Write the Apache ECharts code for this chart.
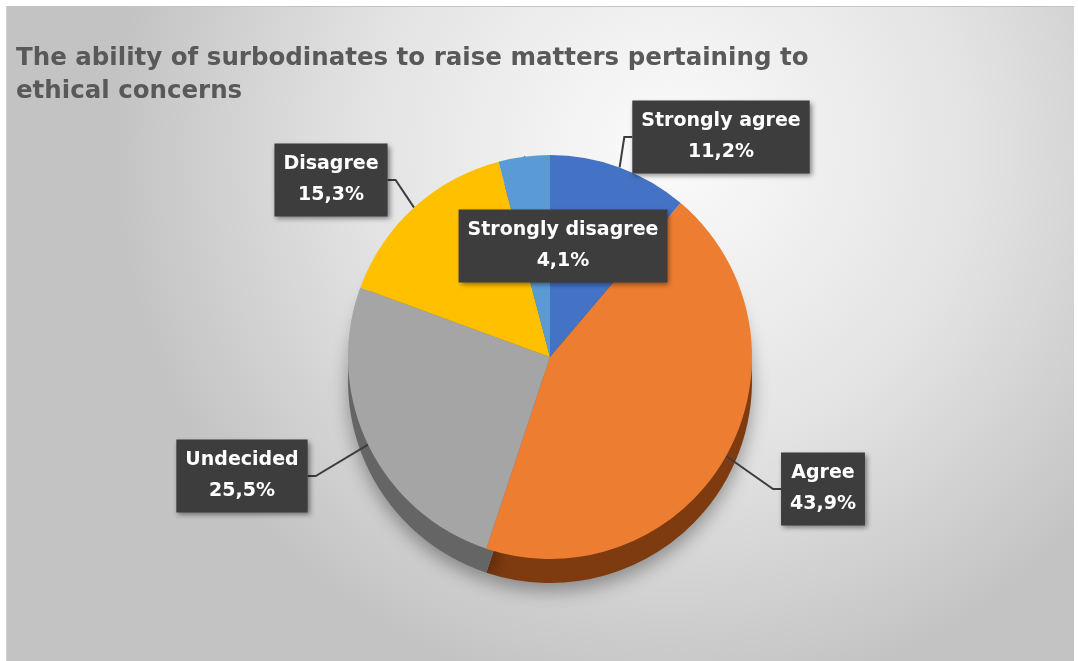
<!DOCTYPE html>
<html>
<head>
<meta charset="utf-8">
<script src="https://cdn.jsdelivr.net/npm/echarts@6/dist/echarts.min.js"></script>
<style>
  html, body { margin: 0; padding: 0; background: #ffffff; width: 1078px; height: 661px; overflow: hidden; }
  #chart { position: absolute; left: 6px; top: 6px; width: 1067px; height: 655px; border-top: 1px solid #c4c4c4; border-left: 1px solid #d0d0d0; }
</style>
</head>
<body>
<div id="chart"></div>
<script>
// ---- data ----
const titleText = 'The ability of surbodinates to raise matters pertaining to\nethical concerns';
const categories = ['Strongly agree', 'Agree', 'Undecided', 'Disagree', 'Strongly disagree'];
const values = [11.2, 43.9, 25.5, 15.3, 4.1];
const topColors = ['#4472C4', '#ED7D31', '#A5A5A5', '#FFC000', '#5B9BD5'];
const sideColors = ['#2B4B86', '#7E3B0F', '#656565', '#9E7600', '#3A6A98'];

// label box centres (chart pixel positions for the callouts)
const labelPos = [[714, 130], [816, 482], [235, 469], [324, 173], [556, 239]];

const fmt = v => v.toFixed(1).replace('.', ',') + '%';

const chart = echarts.init(document.getElementById('chart'));
const topData = categories.map((c, i) => ({ name: c, value: values[i], itemStyle: { color: topColors[i] } }));
const sideData = categories.map((c, i) => ({ name: c, value: values[i], itemStyle: { color: sideColors[i] } }));

chart.setOption({
  backgroundColor: {
    type: 'radial', x: 0.62, y: 0.22, r: 0.85,
    colorStops: [
      { offset: 0, color: '#fbfbfb' },
      { offset: 0.55, color: '#e3e3e3' },
      { offset: 1, color: '#c3c3c3' }
    ]
  },
  title: {
    text: titleText,
    left: 4, top: 30,
    textStyle: { fontFamily: 'DejaVu Sans', fontSize: 24.5, fontWeight: 'bold', color: '#595959', lineHeight: 33 }
  },
  series: [
    {
      type: 'pie', name: 'side', silent: true, z: 1,
      center: [543, 374], radius: 202, startAngle: 90, clockwise: true,
      label: { show: false }, labelLine: { show: false },
      itemStyle: { borderWidth: 0, shadowBlur: 18, shadowColor: 'rgba(0,0,0,0.35)', shadowOffsetY: 8 },
      data: sideData
    },
    {
      type: 'pie', name: 'top', z: 2,
      center: [543, 350], radius: 202, startAngle: 90, clockwise: true,
      itemStyle: { borderWidth: 0 },
      label: {
        show: true, position: 'outside',
        formatter: p => p.name + '\n' + fmt(p.value),
        fontFamily: 'DejaVu Sans', fontSize: 19, fontWeight: 'bold', color: '#ffffff',
        lineHeight: 31, align: 'center',
        backgroundColor: '#3d3d3d', padding: [6, 9, 5, 9],
        shadowBlur: 5, shadowColor: 'rgba(0,0,0,0.45)', shadowOffsetX: 2, shadowOffsetY: 2
      },
      labelLine: { show: true, length: 8, length2: 8, lineStyle: { color: '#3d3d3d', width: 2 } },
      labelLayout: p => ({
        x: labelPos[p.dataIndex][0], y: labelPos[p.dataIndex][1],
        align: 'center', verticalAlign: 'middle'
      }),
      emphasis: { disabled: true },
      data: topData
    }
  ]
});
</script>
</body>
</html>
